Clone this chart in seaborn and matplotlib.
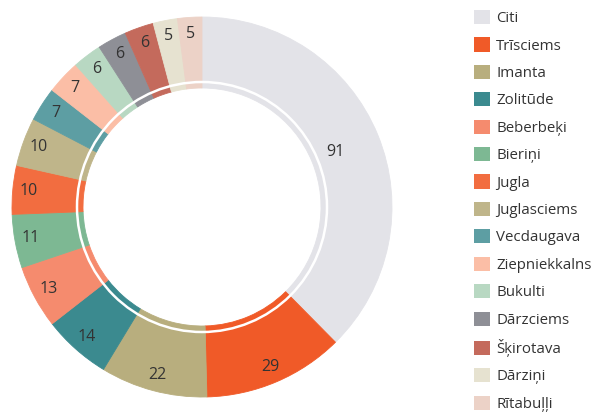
import numpy as np
import seaborn as sns
import matplotlib.pyplot as plt
from matplotlib.patches import Patch, Circle

districts = ['Citi', 'Trīsciems', 'Imanta', 'Zolitūde', 'Beberbeķi', 'Bieriņi', 'Jugla',
             'Juglasciems', 'Vecdaugava', 'Ziepniekkalns', 'Bukulti', 'Dārzciems',
             'Šķirotava', 'Dārziņi', 'Rītabuļļi']
counts = [91, 29, 22, 14, 13, 11, 10, 10, 7, 7, 6, 6, 6, 5, 5]
colors = ['#e3e3e8', '#f05a28', '#b8ae7e', '#3b8a8f', '#f58b6e', '#7db893', '#f26d40',
          '#bfb58a', '#5d9ea3', '#fbbea6', '#b8d8c2', '#8e8f96', '#c46a5c', '#e6e2d0',
          '#ecd2c7']

sns.set_theme(style='white')
plt.rcParams['font.family'] = ['Open Sans', 'DejaVu Sans']

fig = plt.figure(figsize=(5.97, 4.12), dpi=100)
ax = fig.add_axes([12 / 597, 15 / 412, 380 / 597, 380 / 412])

inner = 119 / 190
wedges, _ = ax.pie(counts, colors=colors, startangle=90, counterclock=False, radius=1,
                   wedgeprops=dict(width=1 - inner, linewidth=0.6))
for w in wedges:
    w.set_edgecolor(w.get_facecolor())

# thin white ring inside the donut
ax.add_patch(Circle((0, 0), 125 / 190, fill=False, color='white', lw=1.8))

# value labels
total = sum(counts)
start = 90.0
for i, v in enumerate(counts):
    span = v / total * 360
    mid = np.deg2rad(start - span / 2)
    r = 0.76 if v == max(counts) else 0.915
    ax.text(r * np.cos(mid), r * np.sin(mid), str(v), ha='center', va='center',
            fontsize=11.5, color='#333333')
    start -= span

ax.set_xlim(-1, 1)
ax.set_ylim(-1, 1)
ax.set_aspect('equal')
ax.axis('off')

handles = [Patch(facecolor=c, edgecolor='none') for c in colors]
fig.legend(handles, districts, loc='upper left', bbox_to_anchor=(474 / 597, 1 - 10 / 412),
           frameon=False, borderpad=0, borderaxespad=0, fontsize=10.8,
           handlelength=1.07, handleheight=1.07, handletextpad=0.4, labelspacing=0.75,
           labelcolor='#333333')

fig.savefig('out.png', dpi=100, facecolor='white')
